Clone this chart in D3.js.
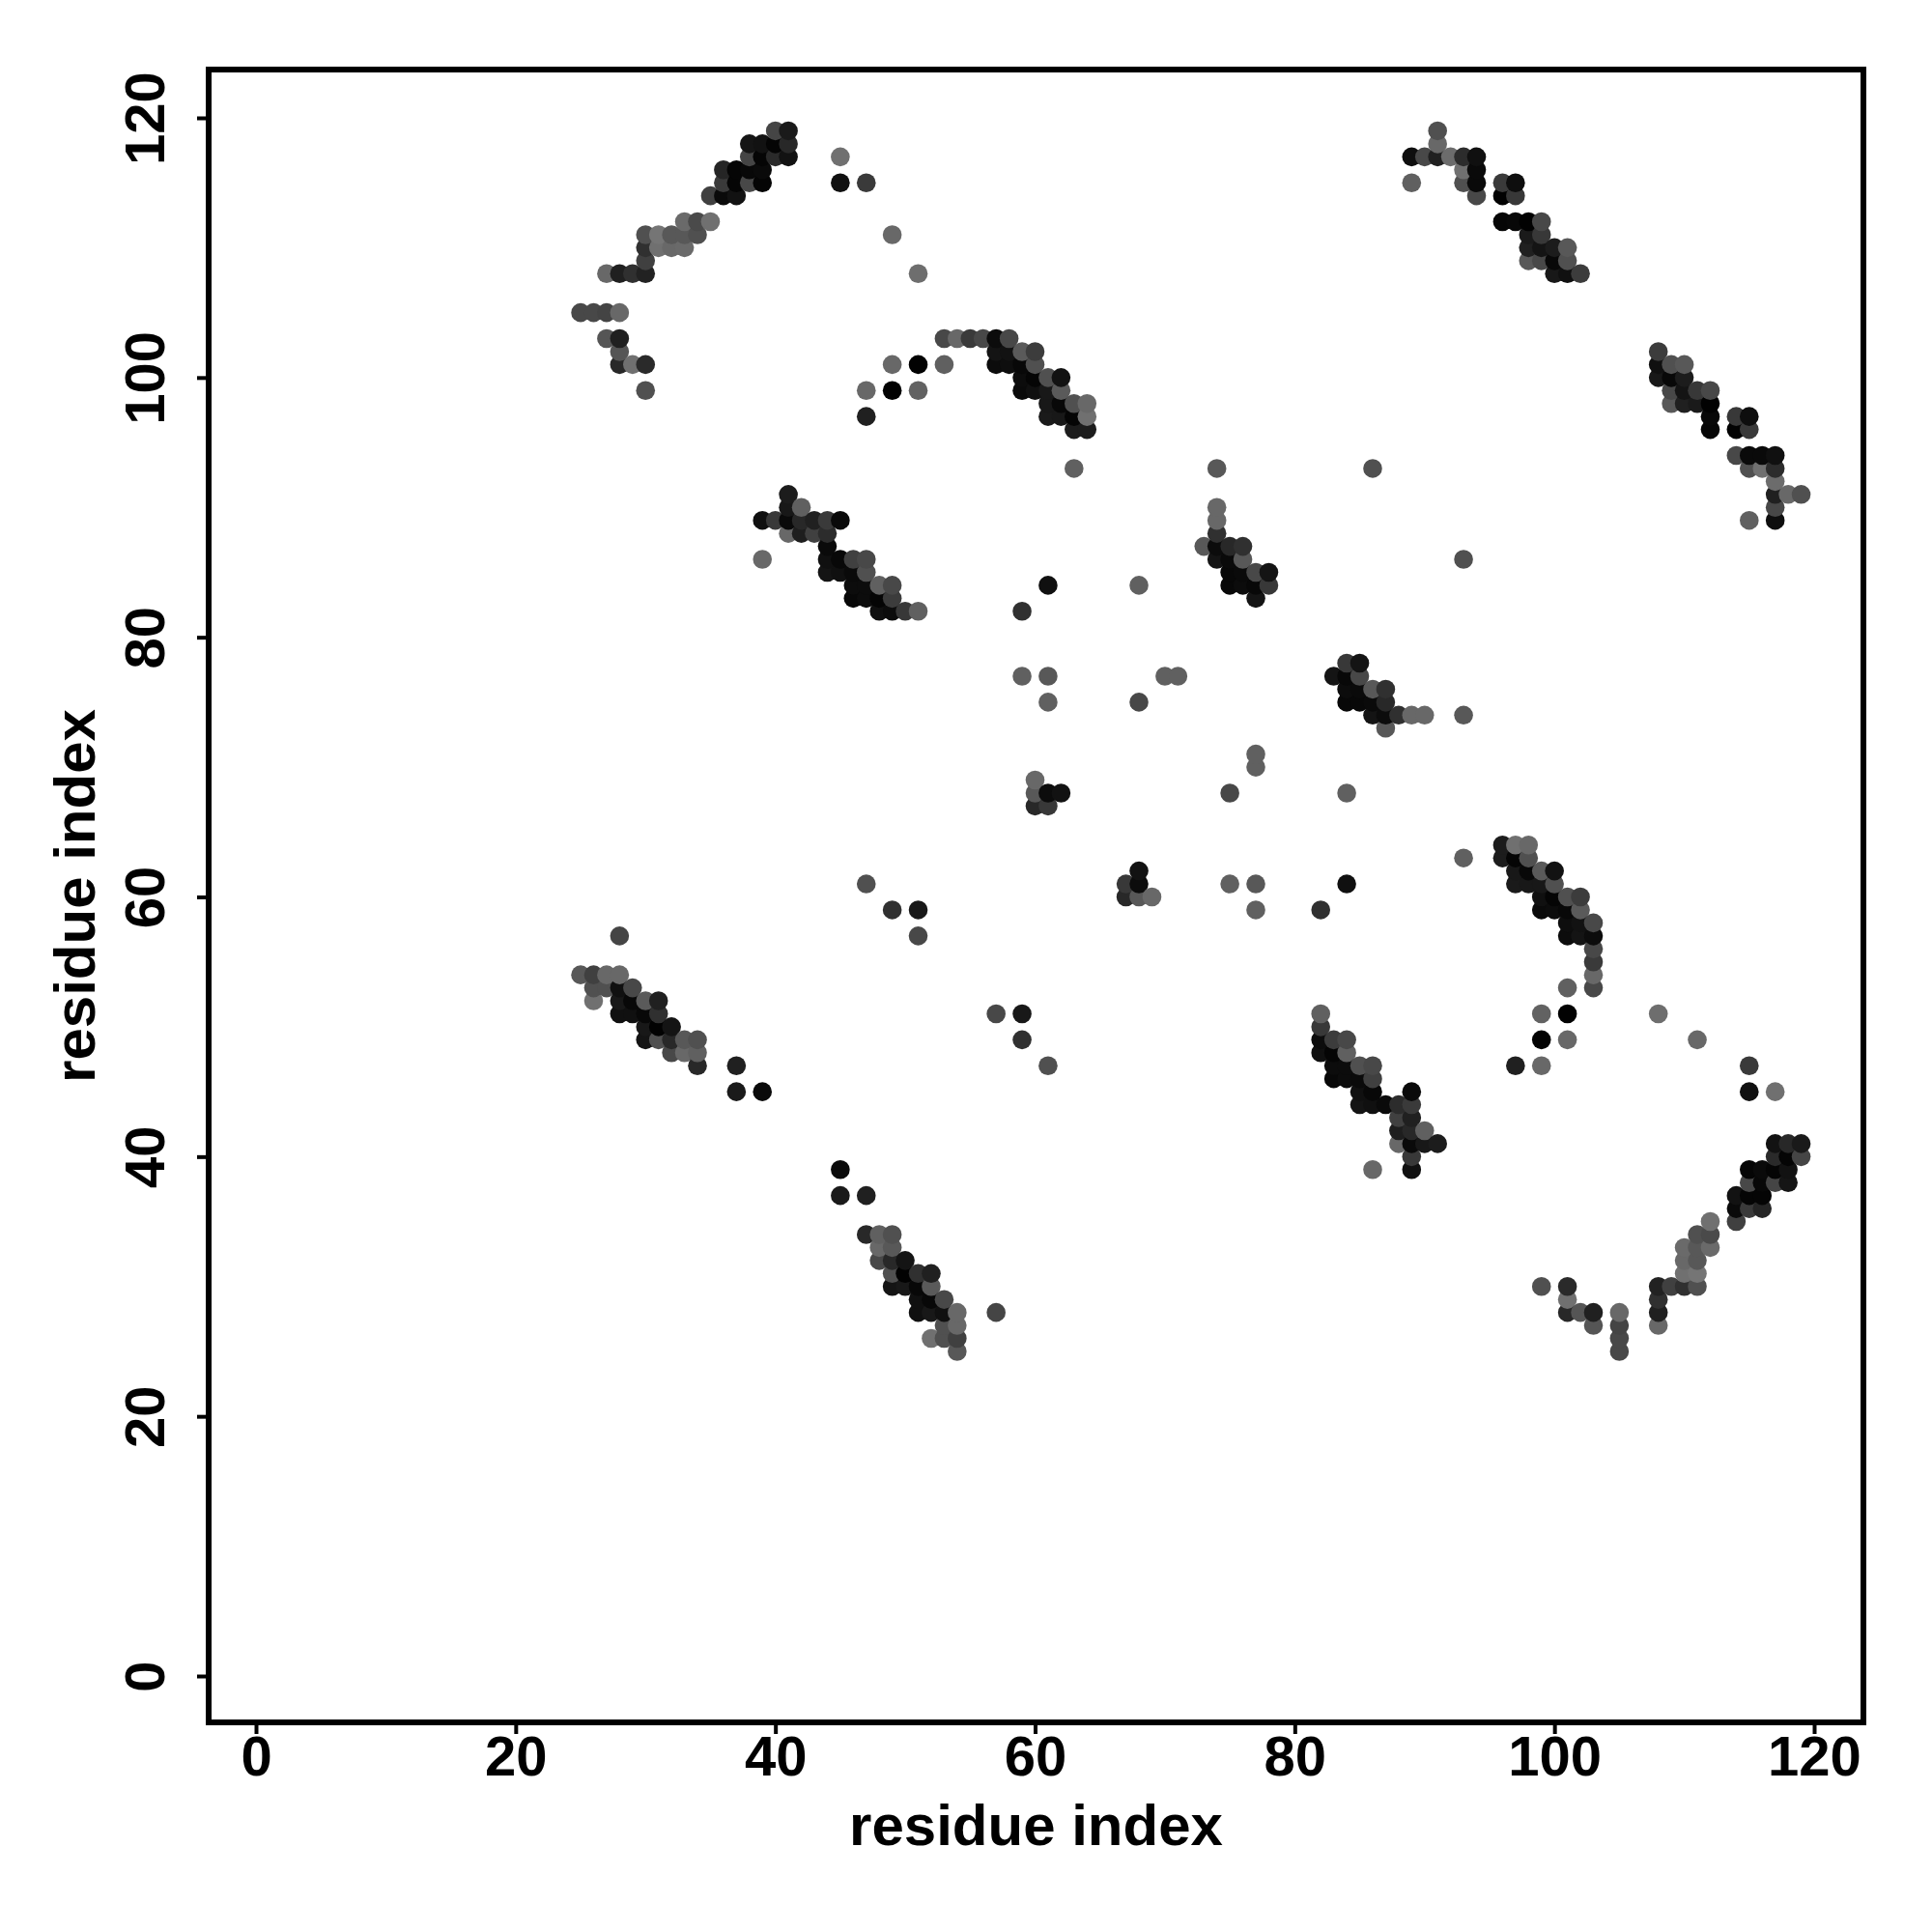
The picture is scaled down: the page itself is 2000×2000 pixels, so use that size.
<!DOCTYPE html>
<html><head><meta charset="utf-8">
<script src="https://cdn.jsdelivr.net/npm/d3@7"></script>
<style>html,body{margin:0;padding:0;background:#fff}svg{display:block}</style>
</head><body><div id="chart"></div>
<script>
// Contacts [residue i, residue j, gray level]; the map is symmetric, each is also drawn at (j, i).
const hairpinTopLeft = [
[40,119,0x45],[41,119,0x1a],[38,118,0x15],[39,118,0x12],[40,118,0x05],[41,118,0x28],
[38,117,0x45],[39,117,0x05],[40,117,0x2a],[41,117,0x12],[36,116,0x25],[37,116,0x05],[38,116,0x08],[39,116,0x0a],
[36,115,0x3a],[37,115,0x05],[38,115,0x48],[39,115,0x05],[35,114,0x40],[36,114,0x0a],[37,114,0x12],
[33,112,0x6a],[34,112,0x4a],[35,112,0x70],[30,111,0x50],[31,111,0x75],[32,111,0x58],[33,111,0x58],[34,111,0x50],
[30,110,0x30],[31,110,0x70],[32,110,0x68],[33,110,0x6a],[30,109,0x40],
[27,108,0x68],[28,108,0x20],[29,108,0x30],[30,108,0x22],
[25,105,0x48],[26,105,0x48],[27,105,0x44],[28,105,0x68],
[27,103,0x55],[28,103,0x20],[28,102,0x55],[28,101,0x28],[29,101,0x70],[30,101,0x2a],[30,99,0x50]
];
const scatterTop = [
[45,117,0x70],[45,115,0x10],[47,115,0x3a],[49,111,0x68],[51,108,0x6e],
[49,101,0x68],[51,101,0x02],[53,101,0x60],[47,99,0x68],[49,99,0x02],[51,99,0x62],[47,97,0x20]
];
const hairpinTopMiddle = [
[53,103,0x48],[54,103,0x68],[55,103,0x3a],[56,103,0x48],[57,103,0x0c],[58,103,0x48],
[57,102,0x14],[58,102,0x12],[59,102,0x5a],[60,102,0x3c],
[57,101,0x0c],[58,101,0x0e],[59,101,0x08],[60,101,0x50],
[59,100,0x0c],[60,100,0x05],[61,100,0x50],[62,100,0x12],
[59,99,0x0a],[60,99,0x10],[61,99,0x18],[62,99,0x5a],
[61,98,0x18],[62,98,0x08],[63,98,0x50],[64,98,0x68],
[61,97,0x1a],[62,97,0x18],[63,97,0x05],[64,97,0x70],[63,96,0x1c],[64,96,0x1c],[63,93,0x60]
];
const strandPairA = [
[41,91,0x1c],[41,90,0x18],[42,90,0x60],
[39,89,0x10],[40,89,0x38],[41,89,0x0a],[42,89,0x28],[43,89,0x20],[44,89,0x3a],[45,89,0x0a],
[41,88,0x68],[42,88,0x1e],[43,88,0x40],[44,88,0x2c],[44,87,0x0a],
[39,86,0x68],[44,86,0x10],[45,86,0x08],[46,86,0x40],[47,86,0x48],
[44,85,0x14],[45,85,0x10],[46,85,0x0a],[47,85,0x50],
[46,84,0x0c],[47,84,0x0c],[48,84,0x60],[49,84,0x48],
[46,83,0x08],[47,83,0x0c],[48,83,0x05],[49,83,0x3c],
[48,82,0x10],[49,82,0x0c],[50,82,0x38],[51,82,0x60]
];
const hairpinTopRight = [
[91,119,0x58],[91,118,0x68],[89,117,0x14],[90,117,0x50],[91,117,0x20],[92,117,0x70],[93,117,0x28],[94,117,0x0e],
[93,116,0x78],[94,116,0x08],[89,115,0x68],[93,115,0x58],[94,115,0x06],[96,115,0x30],[97,115,0x0a],
[94,114,0x48],[96,114,0x02],[97,114,0x3c],
[96,112,0x08],[97,112,0x08],[98,112,0x06],[99,112,0x48],[98,111,0x14],[99,111,0x3a],
[98,110,0x1c],[99,110,0x12],[100,110,0x1e],[101,110,0x58],
[98,109,0x48],[99,109,0x4a],[100,109,0x0c],[101,109,0x50],[100,108,0x14],[101,108,0x0a],[102,108,0x3c]
];
const farCorner = [
[108,102,0x3c],[108,101,0x10],[109,101,0x50],[110,101,0x58],[108,100,0x18],[109,100,0x08],[110,100,0x1c],
[109,99,0x48],[110,99,0x14],[111,99,0x38],[112,99,0x48],[109,98,0x58],[110,98,0x20],[111,98,0x1a],[112,98,0x02],
[112,97,0x08],[114,97,0x38],[115,97,0x0e],[112,96,0x06],[114,96,0x02],[115,96,0x3a],
[114,94,0x48],[115,94,0x0a],[116,94,0x0a],[117,94,0x10],[115,93,0x50],[116,93,0x70],[117,93,0x2c],
[117,92,0x6c],[117,91,0x20],[118,91,0x68],[119,91,0x50],[117,90,0x48],[115,89,0x60],[117,89,0x0e]
];
const strandPairB = [
[74,93,0x58],[74,90,0x68],[74,89,0x68],[74,88,0x30],[73,87,0x58],[74,87,0x0c],[75,87,0x28],[76,87,0x30],
[74,86,0x14],[75,86,0x0a],[76,86,0x58],[75,85,0x08],[76,85,0x0a],[77,85,0x48],[78,85,0x14],
[75,84,0x08],[76,84,0x0c],[77,84,0x08],[78,84,0x38],[77,83,0x14]
];
const lowerBand = [
[28,57,0x45],[25,54,0x58],[26,54,0x40],[27,54,0x68],[28,54,0x68],
[26,53,0x50],[27,53,0x50],[28,53,0x10],[29,53,0x48],
[26,52,0x70],[28,52,0x18],[29,52,0x08],[30,52,0x5a],[31,52,0x20],
[28,51,0x10],[29,51,0x10],[30,51,0x08],[31,51,0x30],[30,50,0x18],[31,50,0x02],[32,50,0x14],
[30,49,0x14],[31,49,0x50],[32,49,0x28],[33,49,0x58],[34,49,0x50],
[32,48,0x48],[33,48,0x68],[34,48,0x60],[34,47,0x28],[37,47,0x20],[37,45,0x1a],[39,45,0x0a]
];
const scatterMiddle = [
[86,93,0x50],[61,84,0x10],[68,84,0x60],[59,82,0x30],[59,77,0x60],[61,77,0x58],[61,75,0x60],[68,75,0x48],
[70,77,0x60],[71,77,0x60],[60,69,0x68],[60,68,0x58],[60,67,0x28],[61,68,0x0c],[61,67,0x38],[62,68,0x12],
[47,61,0x50],[49,59,0x30],[51,59,0x18],[51,57,0x48],[28,57,0x45]
];
const diagonalSets = [hairpinTopLeft, scatterTop, hairpinTopMiddle, strandPairA, hairpinTopRight, farCorner, strandPairB, lowerBand, scatterMiddle];
const xTicks = [0,20,40,60,80,100,120];
const yTicks = [0,20,40,60,80,100,120];
const xTitle = "residue index", yTitle = "residue index";

const W = 2000, H = 2000;
const box = {l:216, r:1929, t:72, b:1783};
const svg = d3.select("#chart").append("svg").attr("width",W).attr("height",H).style("font-family","'Liberation Sans',Arial,sans-serif");
const x = d3.scaleLinear().domain([0,120]).range([265,1878]);
const y = d3.scaleLinear().domain([0,120]).range([1735,122]);
const gray = d3.scaleLinear().domain([0,255]).range(["#000","#fff"]);

const seen = new Map();
diagonalSets.flat().forEach(([i,j,g])=>{
  seen.set(i+"_"+j,{i,j,g}); seen.set(j+"_"+i,{i:j,j:i,g});
});
const points = [...seen.values()].sort((a,b)=>d3.ascending(a.i,b.i)||d3.ascending(a.j,b.j));

svg.append("g").selectAll("circle").data(points).join("circle")
  .attr("cx",d=>x(d.i)).attr("cy",d=>y(d.j)).attr("r",9.8).attr("fill",d=>gray(d.g));

const fs = 58, titleFs = 60;
const gx = svg.append("g").attr("transform",`translate(0,${box.b})`)
  .call(d3.axisBottom(x).tickValues(xTicks).tickSize(12).tickPadding(0));
const gy = svg.append("g").attr("transform",`translate(${box.l},0)`)
  .call(d3.axisLeft(y).tickValues(yTicks).tickSize(12).tickPadding(0));
[gx,gy].forEach(g=>{
  g.select(".domain").remove();
  g.selectAll(".tick line").attr("stroke","#000").attr("stroke-width",4);
  g.selectAll(".tick text").attr("fill","#000").style("font-size",fs+"px").style("font-weight","bold");
});
gx.selectAll(".tick text").attr("dy",null).attr("y",55);
gy.selectAll(".tick text").attr("dy",null).attr("x",null).attr("y",null)
  .attr("text-anchor","middle").attr("transform","translate(-46,0) rotate(-90)");

svg.append("rect").attr("x",box.l).attr("y",box.t).attr("width",box.r-box.l).attr("height",box.b-box.t)
  .attr("fill","none").attr("stroke","#000").attr("stroke-width",6);

svg.append("text").attr("x",(box.l+box.r)/2).attr("y",1910).attr("text-anchor","middle")
  .style("font-size",titleFs+"px").style("font-weight","bold").text(xTitle);
svg.append("text").attr("transform",`translate(98,${(box.t+box.b)/2}) rotate(-90)`).attr("text-anchor","middle")
  .style("font-size",titleFs+"px").style("font-weight","bold").text(yTitle);
</script></body></html>
